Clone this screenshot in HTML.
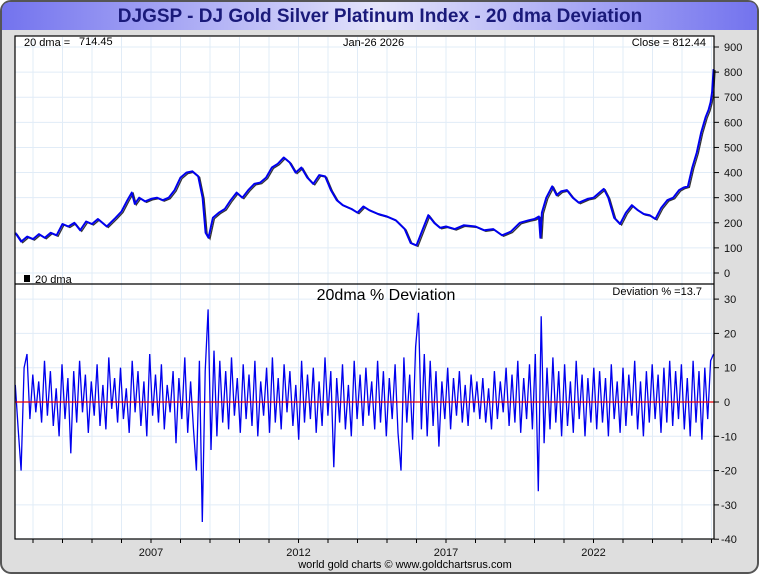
<!DOCTYPE html>
<html><head><meta charset="utf-8"><style>
html,body{margin:0;padding:0;background:#fff;}
body{width:760px;height:575px;overflow:hidden;font-family:"Liberation Sans",sans-serif;}
</style></head><body>
<svg id="chart" width="760" height="575" xmlns="http://www.w3.org/2000/svg" font-family="Liberation Sans, sans-serif">
<defs>
<linearGradient id="tg" x1="0" x2="1" y1="0" y2="0">
<stop offset="0" stop-color="#7373ee"/><stop offset="0.5" stop-color="#e4e4fb"/><stop offset="1" stop-color="#7373ee"/>
</linearGradient>
</defs>
<rect x="1" y="1" width="757" height="572" rx="10" fill="#dedede" stroke="#555" stroke-width="2"/>
<path d="M2,30 L2,11 Q2,2 11,2 L749,2 Q757,2 757,11 L757,30 Z" fill="url(#tg)"/>
<text x="380" y="22" text-anchor="middle" font-size="19" font-weight="bold" fill="#1a1a7a">DJGSP - DJ Gold Silver Platinum Index - 20 dma Deviation</text>
<rect x="15" y="36" width="699" height="503" fill="#fff"/>
<g id="grid"></g>
<g id="marks"></g>
<rect x="15" y="36" width="699" height="503" fill="none" stroke="#000" stroke-width="1.2"/>
<line x1="15" y1="284" x2="714" y2="284" stroke="#000" stroke-width="1.2"/>
<g id="axes" font-size="11" fill="#111"></g>
<text x="24" y="46" font-size="11">20 dma =</text>
<text x="79" y="45" font-size="11">714.45</text>
<text x="343" y="46" font-size="11">Jan-26  2026</text>
<text x="706" y="46" font-size="11" text-anchor="end">Close = 812.44</text>
<rect x="24" y="275" width="6" height="7" fill="#000"/>
<text x="35" y="283" font-size="11">20 dma</text>
<text x="386" y="300" text-anchor="middle" font-size="16">20dma  %  Deviation</text>
<text x="702" y="295" text-anchor="end" font-size="11">Deviation % =13.7</text>
<text x="405" y="568" text-anchor="middle" font-size="11">world gold charts © www.goldchartsrus.com</text>
</svg>
<script>
const priceYears=[2002.4,2002.6,2002.8,2003,2003.2,2003.4,2003.6,2003.8,2004,2004.2,2004.4,2004.6,2004.8,2005,2005.2,2005.5,2005.8,2006,2006.2,2006.35,2006.45,2006.6,2006.8,2007,2007.2,2007.4,2007.6,2007.8,2008,2008.2,2008.4,2008.6,2008.75,2008.85,2008.95,2009.1,2009.3,2009.5,2009.7,2009.9,2010.1,2010.3,2010.5,2010.7,2010.9,2011.1,2011.3,2011.5,2011.7,2011.9,2012.1,2012.3,2012.5,2012.7,2012.9,2013.1,2013.3,2013.5,2013.8,2014,2014.2,2014.4,2014.7,2015,2015.3,2015.6,2015.8,2016,2016.2,2016.4,2016.6,2016.8,2017,2017.3,2017.6,2018,2018.3,2018.6,2018.9,2019.2,2019.5,2019.8,2020,2020.15,2020.2,2020.25,2020.4,2020.6,2020.75,2020.9,2021.1,2021.3,2021.5,2021.8,2022,2022.2,2022.35,2022.5,2022.7,2022.9,2023.1,2023.3,2023.5,2023.7,2023.9,2024.1,2024.3,2024.5,2024.7,2024.9,2025.05,2025.2,2025.35,2025.5,2025.65,2025.8,2025.9,2025.97,2026.02,2026.07];
const priceValues=[160,125,145,135,155,140,160,150,195,185,200,170,205,195,215,185,220,245,290,320,275,300,285,295,300,290,300,330,380,400,405,385,300,160,140,220,240,255,290,320,300,330,355,360,380,420,435,460,440,400,420,380,355,390,385,330,290,270,255,240,265,250,235,225,210,175,120,110,170,230,200,180,185,175,190,185,170,175,150,165,200,210,215,225,140,240,300,345,310,325,330,300,280,295,300,320,335,300,220,195,240,270,250,235,230,215,260,290,300,330,340,345,420,480,560,620,650,680,720,812];
const devValues=[5,-8,-20,10,14,-5,8,-3,6,-6,12,-4,9,-7,4,-10,11,-5,7,-15,
9,-6,12,-3,8,-9,6,-4,11,-7,5,-8,13,-2,7,-6,10,-5,4,-9,
12,-3,9,-7,6,-10,14,-4,8,-6,11,-8,5,-3,9,-12,7,-5,13,-9,
6,-8,-20,12,-35,9,27,-14,15,-10,12,-6,9,-8,13,-4,7,-9,11,-5,
8,-7,12,-10,6,-4,10,-9,13,-6,7,-8,11,-3,9,-7,5,-11,12,-6,
8,-5,10,-9,6,-7,13,-4,9,-19,7,-6,11,-8,5,-10,12,-5,8,-7,
10,-4,6,-8,12,-6,9,-10,7,-5,11,-9,-20,13,-6,8,-11,16,26,-8,
14,-10,12,-7,9,-13,6,-5,10,-8,7,-4,9,-6,5,-7,8,-3,6,-5,
7,-6,4,-8,9,-5,6,-3,10,-7,8,-6,12,-9,7,-5,11,-8,14,-26,
25,-12,10,-8,13,-6,9,-10,11,-7,6,-9,12,-5,8,-10,7,-6,10,-8,
9,-6,7,-10,11,-5,6,-9,10,-7,8,-4,12,-8,6,-10,9,-6,11,-5,
8,-9,10,-6,12,-7,9,-5,11,-8,7,-10,12,-6,9,-11,10,-5,12,14];
const devStart=2002.4, devEnd=2026.07;
const priceTicks=[0,100,200,300,400,500,600,700,800,900];
const devTicks=[-40,-30,-20,-10,0,10,20,30];
const yearLabels=[2007,2012,2017,2022];

const NS='http://www.w3.org/2000/svg';
const xS=y=>151+(y-2007)*29.5;
const yP=v=>273-v*0.2511;
const yD=v=>402-v*3.43;
function mk(tag,attrs,parent){const e=document.createElementNS(NS,tag);for(const k in attrs)e.setAttribute(k,attrs[k]);parent.appendChild(e);return e;}
const grid=document.getElementById('grid'),marks=document.getElementById('marks'),axes=document.getElementById('axes');
for(let yr=2003;yr<=2026;yr++){
  const g=mk('line',{x1:xS(yr),x2:xS(yr),y1:37,y2:538,stroke:'#e1ecf7','stroke-width':1},grid);
  
  
  const t=mk('line',{x1:xS(yr),x2:xS(yr),y1:539,y2:543,stroke:'#000'},axes);
  
  
}
priceTicks.forEach(v=>{
  const g=mk('line',{x1:15,x2:714,y1:yP(v),y2:yP(v),stroke:'#e1ecf7'},grid);
  
  
  const t=mk('line',{x1:714,x2:719,y1:yP(v),y2:yP(v),stroke:'#000'},axes);
  
  
  const l=mk('text',{x:724,y:yP(v)+4},axes);l.textContent=v;
  
  
});
devTicks.forEach(v=>{
  const g=mk('line',{x1:15,x2:714,y1:yD(v),y2:yD(v),stroke:'#e1ecf7'},grid);
  
  
  const t=mk('line',{x1:714,x2:719,y1:yD(v),y2:yD(v),stroke:'#000'},axes);
  
  
  const l=mk('text',{x:v<0?721:724,y:yD(v)+4},axes);l.textContent=v;
  
  
});
yearLabels.forEach(yr=>{
  const l=mk('text',{x:xS(yr),y:556,'text-anchor':'middle'},axes);l.textContent=yr;
  
  
});
const pp=priceYears.map((y,i)=>xS(y).toFixed(1)+','+yP(priceValues[i]).toFixed(1)).join(' ');
const dma=mk('polyline',{points:pp,fill:'none',stroke:'#333','stroke-width':1.3,transform:'translate(1.5,1)'},marks);


const pl=mk('polyline',{points:pp,fill:'none',stroke:'#0000ee','stroke-width':2,'stroke-linejoin':'round'},marks);


const n=devValues.length;
const dp=devValues.map((v,i)=>xS(devStart+(devEnd-devStart)*i/(n-1)).toFixed(1)+','+yD(v).toFixed(1)).join(' ');
const dl=mk('polyline',{points:dp,fill:'none',stroke:'#0000ee','stroke-width':1.3},marks);


const z=mk('line',{x1:15,x2:714,y1:yD(0),y2:yD(0),stroke:'#ee0000','stroke-width':1.3},marks);


</script>
</body></html>
